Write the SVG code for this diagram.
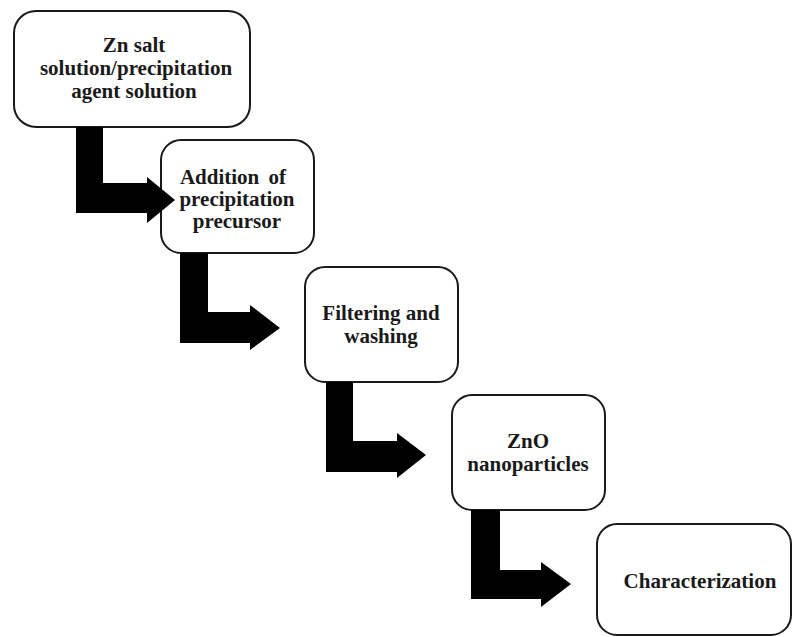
<svg xmlns="http://www.w3.org/2000/svg" width="793" height="637" viewBox="0 0 793 637">
<style>
.box{fill:#fff;stroke:#1a1a1a;stroke-width:2}
.t{font-family:"Liberation Serif","Times New Roman",serif;font-weight:bold;font-size:21px;fill:#1a1a1a;text-anchor:middle}
.arr{fill:#000}
</style>
<rect width="793" height="637" fill="#fff"/>
<g id="n1"><rect class="box" x="14" y="11" width="236" height="116" rx="22"/>
<text class="t" x="134" y="52">Zn salt</text>
<text class="t" x="136" y="75">solution/precipitation</text>
<text class="t" x="134" y="98">agent solution</text></g>
<g id="n2"><rect class="box" x="161" y="140" width="153" height="113" rx="20"/>
<text class="t" x="233" y="184" word-spacing="4">Addition of</text>
<text class="t" x="237" y="206">precipitation</text>
<text class="t" x="237" y="228">precursor</text></g>
<g id="n3"><rect class="box" x="305" y="267" width="153" height="115" rx="20"/>
<text class="t" x="381" y="320">Filtering and</text>
<text class="t" x="381" y="343">washing</text></g>
<g id="n4"><rect class="box" x="452" y="395" width="153" height="115" rx="20"/>
<text class="t" x="528" y="448">ZnO</text>
<text class="t" x="528" y="471">nanoparticles</text></g>
<g id="n5"><rect class="box" x="597" y="524" width="194" height="111" rx="20"/>
<text class="t" x="700" y="588">Characterization</text></g>
<g id="connectors">
<polygon class="arr" points="76,127 103,127 103,183 147,183 147,177 175,200 147,223 147,213 76,213"/>
<polygon class="arr" points="180,253 208,253 208,312 250,312 250,305 280,328 250,350 250,343 180,343"/>
<polygon class="arr" points="326,382 353,382 353,441 397,441 397,433 426,455 397,478 397,472 326,472"/>
<polygon class="arr" points="471,510 500,510 500,570 541,570 541,562 571,584 541,607 541,599 471,599"/>
</g>
</svg>
